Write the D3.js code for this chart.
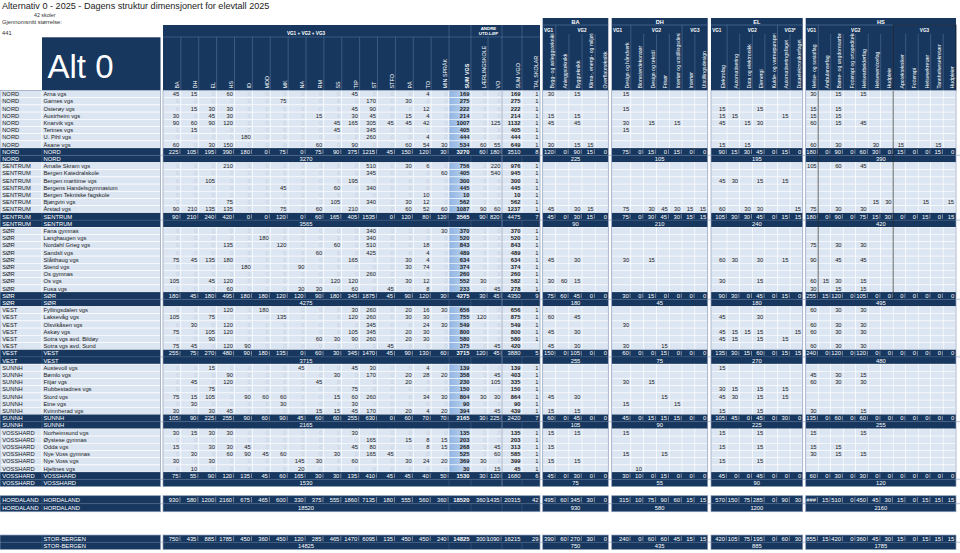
<!DOCTYPE html>
<html><head><meta charset="utf-8">
<script src="https://cdn.jsdelivr.net/npm/d3@7"></script>
<style>body{margin:0;background:#fff;}svg{display:block;}</style>
</head><body>
<script>
// ================= DATA =================
const regions = ["NORD","SENTRUM","SØR","VEST","SUNNH","VOSSHARD"];
const storBergenRegions = ["NORD","SENTRUM","SØR","VEST"];
const schoolNames = [
 "Arna vgs","Garnes vgs","Osterøy vgs","Austrheim vgs","Knarvik vgs","Tertnes vgs","U. Pihl vgs","Åsane vgs",
 "Amalie Skram vgs","Bergen Katedralskole","Bergen maritime vgs","Bergens Handelsgymnasium","Bergen Tekniske fagskole","Bjørgvin vgs","Årstad vgs",
 "Fana gymnas","Langhaugen vgs","Nordahl Grieg vgs","Sandsli vgs","Slåtthaug vgs","Stend vgs","Os gymnas","Os vgs","Fusa vgs",
 "Fyllingsdalen vgs","Laksevåg vgs","Olsvikåsen vgs","Askøy vgs","Sotra vgs avd. Bildøy","Sotra vgs avd. Sund",
 "Austevoll vgs","Bømlo vgs","Fitjar vgs","Rubbestadnes vgs","Stord vgs","Etne vgs","Kvinnherad vgs",
 "Norheimsund vgs","Øystese gymnas","Odda vgs","Nye Voss gymnas","Nye Voss vgs","Hjeltnes vgs"];
const schoolRegion = [
 "NORD","NORD","NORD","NORD","NORD","NORD","NORD","NORD",
 "SENTRUM","SENTRUM","SENTRUM","SENTRUM","SENTRUM","SENTRUM","SENTRUM",
 "SØR","SØR","SØR","SØR","SØR","SØR","SØR","SØR","SØR",
 "VEST","VEST","VEST","VEST","VEST","VEST",
 "SUNNH","SUNNH","SUNNH","SUNNH","SUNNH","SUNNH","SUNNH",
 "VOSSHARD","VOSSHARD","VOSSHARD","VOSSHARD","VOSSHARD","VOSSHARD"];
const mainPrograms = ["BA","DH","EL","HS","ID","MDD","MK","NA","RM","SS","TIP","ST","STFO","PÅ","TO","MIN SPRÅK"];
const extraKeys = ["SUM VGS","LÆRLINGSKOLE","VO","SUM VGO","TAL SKOLAR"];
// BA DH EL HS ID MDD MK NA RM SS TIP ST STFO PÅ TO MIN | LÆRLINGSKOLE VO
const mainRows = [
 [45,15,0,60, 0,0,0,0, 0,0,45,0, 0,0,4,0, 0,0],
 [0,0,0,0, 0,0,75,0, 0,0,0,170, 0,30,0,0, 0,0],
 [0,15,30,30, 0,0,0,0, 0,0,45,90, 0,0,12,0, 0,0],
 [30,0,45,30, 0,0,0,0, 15,0,30,45, 0,15,4,0, 0,0],
 [90,60,90,120, 0,0,0,0, 0,45,165,305, 45,45,42,0, 0,125],
 [0,15,0,0, 0,0,0,0, 0,45,0,345, 0,0,0,0, 0,0],
 [0,0,0,0, 180,0,0,0, 0,0,0,260, 0,0,4,0, 0,0],
 [60,0,30,150, 0,0,0,0, 60,0,90,0, 0,60,54,30, 60,55],
 [0,0,0,210, 0,0,0,0, 0,0,0,510, 0,30,6,0, 0,220],
 [0,0,0,0, 0,0,0,0, 0,0,0,345, 0,0,0,60, 0,540],
 [0,0,105,0, 0,0,0,0, 0,0,195,0, 0,0,0,0, 0,0],
 [0,0,0,0, 0,0,45,0, 0,60,0,340, 0,0,0,0, 0,0],
 [0,0,0,0, 0,0,0,0, 0,0,0,0, 0,0,10,0, 0,0],
 [0,0,0,75, 0,0,0,0, 0,105,0,340, 0,30,12,0, 0,0],
 [90,210,135,135, 0,0,75,0, 60,0,210,0, 0,60,52,60, 90,60],
 [0,0,0,0, 0,0,0,0, 0,0,0,340, 0,0,0,30, 0,0],
 [0,0,0,0, 0,180,0,0, 0,0,0,340, 0,0,0,0, 0,0],
 [0,0,0,135, 0,0,120,0, 0,60,0,510, 0,0,18,0, 0,0],
 [0,0,0,0, 0,0,0,0, 60,0,0,425, 0,0,4,0, 0,0],
 [75,45,135,180, 0,0,0,0, 0,0,165,0, 0,30,4,0, 0,0],
 [0,0,0,0, 180,0,0,90, 0,0,0,0, 0,30,74,0, 0,0],
 [0,0,0,0, 0,0,0,0, 0,0,0,260, 0,0,0,0, 0,0],
 [105,0,45,120, 0,0,0,0, 0,120,120,0, 0,30,12,0, 30,0],
 [0,0,0,60, 0,0,0,30, 30,0,60,0, 45,0,8,0, 0,45],
 [0,0,0,120, 0,180,0,0, 0,0,30,260, 0,20,16,30, 0,0],
 [105,0,75,0, 0,0,135,0, 0,0,120,260, 0,30,30,0, 120,0],
 [0,30,0,120, 0,0,0,0, 0,0,0,345, 0,0,24,30, 0,0],
 [75,0,105,120, 0,0,0,0, 0,0,105,345, 0,20,30,0, 0,0],
 [0,0,90,0, 0,0,0,0, 60,30,90,260, 0,20,30,0, 0,0],
 [75,45,0,120, 90,0,0,0, 0,0,0,0, 45,0,0,0, 0,45],
 [0,0,15,0, 0,0,0,45, 0,0,45,30, 0,0,4,0, 0,0],
 [0,0,0,90, 0,0,0,0, 0,30,0,170, 0,20,28,20, 0,45],
 [0,45,0,120, 0,0,0,0, 45,0,0,0, 0,20,0,0, 0,105],
 [0,0,75,0, 0,0,0,0, 0,0,75,0, 0,0,0,0, 0,0],
 [75,15,105,0, 90,60,60,0, 0,15,60,260, 0,0,34,30, 30,30],
 [0,30,0,0, 0,0,30,0, 0,0,30,0, 0,0,0,0, 0,0],
 [30,0,30,45, 0,0,0,0, 15,15,45,170, 0,20,4,20, 0,45],
 [30,15,30,30, 0,0,0,0, 0,0,30,0, 0,0,0,0, 0,0],
 [0,0,0,0, 0,0,0,0, 0,0,0,165, 0,15,8,15, 0,0],
 [15,0,30,30, 45,0,0,0, 0,0,45,80, 0,0,8,15, 0,45],
 [0,30,0,60, 90,45,60,0, 0,30,0,165, 45,0,0,0, 0,60],
 [30,0,30,0, 0,0,0,145, 30,0,60,0, 0,30,24,20, 30,0],
 [0,10,0,0, 0,0,0,20, 0,0,0,0, 0,0,0,0, 0,15]];
const talSkolar = [1,1,1,1,1,1,1,1, 1,1,1,1,1,1,1, 1,1,1,1,1,1,1,1,1, 1,1,1,1,1,null, 1,1,1,1,1,1,1, 1,1,1,1,1,1];

const baCols = ["Bygg- og anleggsteknikk","Anleggsteknikk","Byggteknikk","Klima-, energi- og miljøteknikk","Overflateteknikk"];
const baRows = [
 [30,0,15,0,0],[0,0,0,0,0],[0,0,0,0,0],[15,0,15,0,0],[45,0,45,0,0],[0,0,0,0,0],[0,0,0,0,0],[30,0,15,15,0],
 [0,0,0,0,0],[0,0,0,0,0],[0,0,0,0,0],[0,0,0,0,0],[0,0,0,0,0],[0,0,0,0,0],[45,0,30,15,0],
 [0,0,0,0,0],[0,0,0,0,0],[0,0,0,0,0],[0,0,0,0,0],[45,0,30,0,0],[0,0,0,0,0],[0,0,0,0,0],[30,60,15,0,0],[0,0,0,0,0],
 [0,0,0,0,0],[60,0,45,0,0],[0,0,0,0,0],[45,0,30,0,0],[0,0,0,0,0],[45,0,30,0,0],
 [0,0,0,0,0],[0,0,0,0,0],[0,0,0,0,0],[0,0,0,0,0],[45,0,30,0,0],[0,0,0,0,0],[15,0,15,0,0],
 [15,0,15,0,0],[0,0,0,0,0],[15,0,0,0,0],[0,0,0,0,0],[15,0,15,0,0],[0,0,0,0,0]];
const dhCols = ["Design og håndverk","Blomsterdekoratør","Design og tekstil","Frisør","Interiør og utstillingsdesign","Interiør","Utstillingsdesign"];
const dhRows = [
 [15,0,0,0,0,0,0],[0,0,0,0,0,0,0],[15,0,0,0,0,0,0],[0,0,0,0,0,0,0],[30,0,15,0,15,0,0],[15,0,0,0,0,0,0],[0,0,0,0,0,0,0],[0,0,0,0,0,0,0],
 [0,0,0,0,0,0,0],[0,0,0,0,0,0,0],[0,0,0,0,0,0,0],[0,0,0,0,0,0,0],[0,0,0,0,0,0,0],[0,0,0,0,0,0,0],[75,0,30,45,30,15,15],
 [0,0,0,0,0,0,0],[0,0,0,0,0,0,0],[0,0,0,0,0,0,0],[0,0,0,0,0,0,0],[30,0,15,0,0,0,0],[0,0,0,0,0,0,0],[0,0,0,0,0,0,0],[0,0,0,0,0,0,0],[0,0,0,0,0,0,0],
 [0,0,0,0,0,0,0],[0,0,0,0,0,0,0],[30,0,0,0,0,0,0],[0,0,0,0,0,0,0],[0,0,0,0,0,0,0],[30,0,0,15,0,0,0],
 [0,0,0,0,0,0,0],[0,0,0,0,0,0,0],[30,0,15,0,0,0,0],[0,0,0,0,0,0,0],[0,0,0,15,0,0,0],[15,0,0,0,15,0,0],[0,0,0,0,0,0,0],
 [15,0,0,0,0,0,0],[0,0,0,0,0,0,0],[0,0,0,0,0,0,0],[15,0,0,15,0,0,0],[0,0,0,0,0,0,0],[0,10,0,0,0,0,0]];
const elCols = ["Elektrofag","Automatisering","Data og elektronikk","Elenergi","Kulde- og varmepumpeteknikk","Automatiseringsfaget","Dataelektronikerfaget"];
const elRows = [
 [0,0,0,0,0,0,0],[0,0,0,0,0,0,0],[15,0,0,15,0,0,0],[15,15,0,0,0,15,0],[45,0,15,30,0,0,0],[0,0,0,0,0,0,0],[0,0,0,0,0,0,0],[15,0,15,0,0,0,0],
 [0,0,0,0,0,0,0],[0,0,0,0,0,0,0],[45,30,0,15,0,15,0],[0,0,0,0,0,0,0],[0,0,0,0,0,0,0],[0,0,0,0,0,0,0],[60,0,30,30,0,0,15],
 [0,0,0,0,0,0,0],[0,0,0,0,0,0,0],[0,0,0,0,0,0,0],[0,0,0,0,0,0,0],[60,30,0,30,0,15,0],[0,0,0,0,0,0,0],[0,0,0,0,0,0,0],[30,0,0,15,0,0,0],[0,0,0,0,0,0,0],
 [0,0,0,0,0,0,0],[45,0,0,30,0,0,0],[0,0,0,0,0,0,0],[45,15,15,15,0,0,15],[45,15,0,15,0,15,0],[0,0,0,0,0,0,0],
 [15,0,0,0,0,0,0],[0,0,0,0,0,0,0],[0,0,0,0,0,0,0],[30,15,0,15,0,15,0],[45,30,0,15,0,15,0],[0,0,0,0,0,0,0],[15,0,0,15,0,0,0],
 [15,0,0,15,0,0,0],[0,0,0,0,0,0,0],[15,0,0,15,0,0,0],[0,0,0,0,0,0,0],[15,0,0,15,0,0,0],[0,0,0,0,0,0,0]];
const hsCols = ["Helse- og sosialfag","Ambulansefag","Barne- og ungdomsarbeiderfag","Fotterapi og ortopediteknikk","Helsearbeiderfag","Helseservicefag","Hudpleie","Apotektekniker","Fotterapi","Helsesekretær","Tannhelsesekretær","Hudpleier"];
const hsRows = [
 [30,0,15,0,15,0,0,0,0,0,0,0],[0,0,0,0,0,0,0,0,0,0,0,0],[15,0,15,0,0,0,0,0,0,0,0,0],[15,0,15,0,0,0,0,0,0,0,0,0],
 [60,0,15,0,45,0,0,0,0,0,0,0],[0,0,0,0,0,0,0,0,0,0,0,0],[0,0,0,0,0,0,0,0,0,0,0,0],[60,0,30,0,0,30,0,15,0,0,15,0],
 [105,0,60,0,45,0,0,0,0,0,0,0],[0,0,0,0,0,0,0,0,0,0,0,0],[0,0,0,0,0,0,0,0,0,0,0,0],[0,0,0,0,0,0,0,0,0,0,0,0],
 [0,0,0,0,0,0,0,0,0,0,0,0],[0,0,0,0,0,15,30,0,0,15,0,15],[75,0,30,0,30,0,0,0,0,0,0,0],
 [0,0,0,0,0,0,0,0,0,0,0,0],[0,0,0,0,0,0,0,0,0,0,0,0],[75,0,30,0,30,0,0,0,0,0,0,0],[0,0,0,0,0,0,0,0,0,0,0,0],
 [90,0,45,0,45,0,0,0,0,0,0,0],[0,0,0,0,0,0,0,0,0,0,0,0],[0,0,0,0,0,0,0,0,0,0,0,0],[60,15,30,0,15,0,0,0,0,0,0,0],
 [30,0,15,0,15,0,0,0,0,0,0,0],
 [60,0,30,0,30,0,0,0,0,0,0,0],[0,0,0,0,0,0,0,0,0,0,0,0],[60,0,30,0,30,0,0,0,0,0,0,0],[60,0,30,0,30,0,0,0,0,0,0,0],
 [0,0,0,0,0,0,0,0,0,0,0,0],[60,0,30,0,30,0,0,0,0,0,0,0],
 [0,0,0,0,0,0,0,0,0,0,0,0],[45,0,30,0,15,0,0,0,0,0,0,0],[60,0,30,0,30,0,0,0,0,0,0,0],[0,0,0,0,0,0,0,0,0,0,0,0],
 [0,0,0,0,0,0,0,0,0,0,0,0],[0,0,0,0,0,0,0,0,0,0,0,0],[30,0,0,0,15,0,0,0,0,0,0,0],
 [15,0,0,0,15,0,0,0,0,0,0,0],[0,0,0,0,0,0,0,0,0,0,0,0],[15,0,15,0,0,0,0,0,0,0,0,0],[30,0,15,0,15,0,0,0,0,0,0,0],
 [0,0,0,0,0,0,0,0,0,0,0,0],[0,0,0,0,0,0,0,0,0,0,0,0]];

const titleText = "Alternativ 0 - 2025 - Dagens struktur dimensjonert for elevtall 2025";
const schoolCountText = "42 skoler";
const avgLabel = "Gjennomsnitt størrelse:";
const avgValue = "441";
const altLabel = "Alt 0";

// ================= LAYOUT / STYLE =================
const navy = "#17375e", light = "#dce6f2", border = "#8a9cb8", hdrLine = "#5f7ea6";
const FONT = "'Liberation Sans', Arial, Helvetica, sans-serif";
const svg = d3.select("body").append("svg").attr("width",960).attr("height",553).style("font-family",FONT);
const defs = svg.append("defs");
const g1 = defs.append("linearGradient").attr("id","sumg").attr("x1","0").attr("x2","1");
g1.append("stop").attr("offset","0").attr("stop-color","#8fb4e3");
g1.append("stop").attr("offset","1").attr("stop-color","#c9dbf1");

const rowH = 7.2;
const yRow = d3.scaleLinear().domain([0,1]).range([90.5, 90.5+rowH]);

const layout = [];
let slot = 0;
regions.forEach(r => {
  const members = d3.range(schoolNames.length).filter(i => schoolRegion[i] === r);
  members.forEach(i => layout.push({kind:"school", i, slot:slot++, h:rowH}));
  layout.push({kind:"sum", left:r, name:r, members, slot:slot++, h:rowH});
  layout.push({kind:"total", left:r, name:r, members, slot:slot++, h:rowH});
});
const mainEndSlot = slot;
const allIdx = d3.range(schoolNames.length);
const sbIdx = allIdx.filter(i => storBergenRegions.includes(schoolRegion[i]));
const aggGroups = [
  {left:"HORDALAND", name:"HORDALAND", members:allIdx, slot:56.28, h:8},
  {left:"", name:"STOR-BERGEN", members:sbIdx, slot:61.74, h:7.2}
];
aggGroups.forEach(a => {
  layout.push({kind:"sum", left:a.left, name:a.name, members:a.members, slot:a.slot, h:a.h});
  layout.push({kind:"total", left:a.left, name:a.name, members:a.members, slot:a.slot + a.h/rowH, h:a.h});
});

const xProg = d3.scaleBand().domain(mainPrograms).range([163,449]);
const extraEdges = d3.cumsum([449,22,17,14,20,18]);
const mainCols = mainPrograms.map((k,j)=>({key:k, c:j, x0:xProg(k), x1:xProg(k)+xProg.bandwidth()}))
  .concat(extraKeys.map((k,j)=>({key:k, c:16+j, x0:extraEdges[j], x1:extraEdges[j+1]})));
const MAIN_X0 = 163, MAIN_X1 = 540;

const blocks = [
 {name:"BA", keys:baCols, rows:baRows, x0:542.7, x1:608.3, cs:542.7, ce:608.3, groups:[["VG1",0,0],["VG2",1,4]]},
 {name:"DH", keys:dhCols, rows:dhRows, x0:611.7, x1:707.7, cs:618, ce:707.7, groups:[["VG1",0,0],["VG2",1,4],["VG3",5,6]]},
 {name:"EL", keys:elCols, rows:elRows, x0:711, x1:802.7, cs:714.5, ce:802.7, groups:[["VG1",0,0],["VG2",1,4],["VG3*",5,6]]},
 {name:"HS", keys:hsCols, rows:hsRows, x0:805.7, x1:956, cs:805.7, ce:955.7, groups:[["VG1",0,0],["VG2",1,6],["VG3",7,11]]}
];
blocks.forEach(b => {
  const s = d3.scaleBand().domain(b.keys).range([b.cs, b.ce]);
  b.cols = b.keys.map((k,j)=>({key:k, j, x0: j===0 ? b.x0 : s(k), x1: s(k)+s.bandwidth()}));
});

const mainVal = (m,c) => m.kind==="school" ? mainRows[m.i][c] : d3.sum(m.members, i => mainRows[i][c]);
const sumVGS = i => d3.sum(mainRows[i].slice(0,16));
const rowVGS = m => m.kind==="school" ? sumVGS(m.i) : d3.sum(m.members, sumVGS);
const rowVGO = m => rowVGS(m) + mainVal(m,16) + mainVal(m,17);
const rowTal = m => m.kind==="school" ? talSkolar[m.i] : d3.sum(m.members, i => talSkolar[i] || 0);
const blockVal = (b,m,j) => m.kind==="school" ? b.rows[m.i][j] : d3.sum(m.members, i => b.rows[i][j]);

// ================= HEADER TEXT =================
svg.append("text").attr("x",2).attr("y",9).attr("font-size",9.1).attr("fill","#222").text(titleText);
svg.append("text").attr("x",34).attr("y",16.5).attr("font-size",5.3).attr("fill","#333").text(schoolCountText);
svg.append("text").attr("x",2).attr("y",23.5).attr("font-size",5.8).attr("fill","#333").text(avgLabel);
svg.append("text").attr("x",2).attr("y",35.2).attr("font-size",5.8).attr("fill","#333").text(avgValue);
svg.append("rect").attr("x",42).attr("y",37.3).attr("width",118.5).attr("height",53.2).attr("fill",navy);
svg.append("text").attr("x",47.5).attr("y",77.5).attr("font-size",33).attr("fill","#fff").text(altLabel);

const mh = svg.append("g");
mh.append("rect").attr("x",MAIN_X0).attr("y",25).attr("width",MAIN_X1-MAIN_X0).attr("height",65.5).attr("fill",navy);
mh.append("line").attr("x1",MAIN_X0).attr("x2",MAIN_X1).attr("y1",37).attr("y2",37).attr("stroke",hdrLine).attr("stroke-width",0.5);
mh.append("text").attr("x",(MAIN_X0+449)/2).attr("y",34.5).attr("text-anchor","middle").attr("font-size",4.6).attr("font-weight","bold").attr("fill","#fff").text("VG1 + VG2 + VG3");
const andreX = (extraEdges[1]+extraEdges[3])/2 + 2;
mh.append("text").attr("x",andreX).attr("y",29.8).attr("text-anchor","middle").attr("font-size",4.4).attr("font-weight","bold").attr("fill","#fff").text("ANDRE");
mh.append("text").attr("x",andreX).attr("y",35).attr("text-anchor","middle").attr("font-size",4.4).attr("font-weight","bold").attr("fill","#fff").text("UTD.LØP");
[449, extraEdges[1], extraEdges[3], extraEdges[4]].forEach(x =>
  mh.append("line").attr("x1",x).attr("x2",x).attr("y1",25).attr("y2",37).attr("stroke",hdrLine).attr("stroke-width",0.5));
mainCols.forEach((col,k) => {
  if (k>0) mh.append("line").attr("x1",col.x0).attr("x2",col.x0).attr("y1",37).attr("y2",90.5).attr("stroke",hdrLine).attr("stroke-width",0.5);
  mh.append("text").attr("transform",`translate(${col.x1-1.6},88.5) rotate(-90)`)
    .attr("font-size",5.4).attr("fill","#fff").attr("font-weight", col.key==="SUM VGS" ? "bold" : "normal").text(col.key);
});

blocks.forEach((b,bi) => {
  const g = svg.append("g");
  g.append("rect").attr("x",b.x0).attr("y",18).attr("width",b.x1-b.x0).attr("height",72.5).attr("fill",navy);
  g.append("line").attr("x1",b.x0).attr("x2",b.x1).attr("y1",25).attr("y2",25).attr("stroke",hdrLine).attr("stroke-width",0.6);
  g.append("text").attr("x",(b.x0+b.x1)/2).attr("y",23.7).attr("text-anchor","middle").attr("font-size",5.6).attr("font-weight","bold").attr("fill","#fff").text(b.name);
  b.groups.forEach(([lab,a,z],gi) => {
    const gx0 = b.cols[a].x0, gx1 = b.cols[z].x1;
    if (gi===0) g.append("text").attr("x",gx0+1.2).attr("y",31.5).attr("font-size",4.6).attr("font-weight","bold").attr("fill","#fff").text(lab);
    else g.append("text").attr("x",(gx0+gx1)/2).attr("y",31.5).attr("text-anchor","middle").attr("font-size",4.6).attr("font-weight","bold").attr("fill","#fff").text(lab);
  });
  const cid = "clip"+bi;
  defs.append("clipPath").attr("id",cid).append("rect").attr("x",b.x0).attr("y",33.5).attr("width",b.x1-b.x0).attr("height",57);
  const lg = g.append("g").attr("clip-path",`url(#${cid})`);
  b.cols.forEach((col,j) => {
    if (j>0) g.append("line").attr("x1",col.x0).attr("x2",col.x0).attr("y1",b.groups.some(gr=>gr[1]===j)?25:34).attr("y2",90.5).attr("stroke",hdrLine).attr("stroke-width",0.5);
    lg.append("text").attr("transform",`translate(${col.x1-1.8},88.5) rotate(-90)`).attr("font-size",5.2).attr("fill","#fff").text(col.key);
  });
});
const hs = blocks[3];
svg.append("rect").attr("x",hs.cols[7].x0).attr("y",25).attr("width",hs.x1-hs.cols[7].x0).attr("height",65.5)
  .attr("fill","none").attr("stroke","#0b1626").attr("stroke-width",0.8);

// ================= ROWS =================
const body = svg.append("g");
const numFS = 5.8;
function cellText(g, x, y, h, txt, opts={}) {
  g.append("text").attr("x",x).attr("y",y+h/2+2.05).attr("text-anchor",opts.anchor||"end")
    .attr("font-size",opts.fs||numFS).attr("font-weight",opts.bold?"bold":"normal")
    .attr("fill",opts.fill||"#1a1a1a").text(txt);
}
function sep(g, x, y, h) {
  g.append("line").attr("x1",x).attr("x2",x).attr("y1",y+1.3).attr("y2",y+h-1.3).attr("stroke","#b8c6da").attr("stroke-width",0.6);
}

layout.forEach(m => {
  const y = yRow(m.slot), h = m.h;
  const g = body.append("g");
  if (m.kind === "school") {
    g.append("rect").attr("x",0).attr("y",y).attr("width",42).attr("height",h).attr("fill",light).attr("stroke","#fff").attr("stroke-width",0.6);
    g.append("rect").attr("x",42).attr("y",y).attr("width",118.5).attr("height",h).attr("fill",light).attr("stroke","#fff").attr("stroke-width",0.6);
    cellText(g,2.2,y,h,schoolRegion[m.i],{anchor:"start",fs:5.8});
    cellText(g,43.5,y,h,schoolNames[m.i],{anchor:"start",fs:5.8});
    mainCols.forEach(col => {
      g.append("rect").attr("x",col.x0).attr("y",y).attr("width",col.x1-col.x0).attr("height",h)
        .attr("fill", col.key==="SUM VGS" ? "url(#sumg)" : light).attr("stroke","#fff").attr("stroke-width",0.5);
      let v, opts = {};
      if (col.c < 16) v = mainRows[m.i][col.c];
      else if (col.key==="SUM VGS") { v = rowVGS(m); opts.bold = true; }
      else if (col.key==="LÆRLINGSKOLE") v = mainRows[m.i][16];
      else if (col.key==="VO") v = mainRows[m.i][17];
      else if (col.key==="SUM VGO") { v = rowVGO(m); opts.bold = true; }
      else v = rowTal(m);
      if (v === null || v === undefined) return;
      if (v === 0) opts.fill = "#c3cfdf";
      cellText(g, col.x1-1.6, y, h, String(v), opts);
    });
    blocks.forEach(b => {
      b.cols.forEach(col => {
        g.append("rect").attr("x",col.x0).attr("y",y).attr("width",col.x1-col.x0).attr("height",h)
          .attr("fill",light).attr("stroke","#fff").attr("stroke-width",0.5);
        const v = b.rows[m.i][col.j];
        if (v) cellText(g, col.x1-1.6, y, h, String(v));
      });
    });
  } else {
    g.append("rect").attr("x",0).attr("y",y).attr("width",160.5).attr("height",h).attr("fill",navy);
    g.append("line").attr("x1",42).attr("x2",42).attr("y1",y).attr("y2",y+h).attr("stroke","#4a6690").attr("stroke-width",0.5);
    cellText(g,2.2,y,h,m.left,{anchor:"start",fill:"#fff"});
    cellText(g,43.5,y,h,m.name,{anchor:"start",fill:"#fff"});
    g.append("rect").attr("x",MAIN_X0).attr("y",y).attr("width",MAIN_X1-MAIN_X0).attr("height",h).attr("fill",navy);
    blocks.forEach(b => g.append("rect").attr("x",b.x0).attr("y",y).attr("width",b.x1-b.x0).attr("height",h).attr("fill",navy));
    if (m.kind === "sum") {
      mainCols.forEach(col => {
        let v, opts = {fill:"#fff"};
        if (col.c < 16) v = mainVal(m,col.c);
        else if (col.key==="SUM VGS") { v = rowVGS(m); opts.bold = true; }
        else if (col.key==="LÆRLINGSKOLE") v = mainVal(m,16);
        else if (col.key==="VO") v = mainVal(m,17);
        else if (col.key==="SUM VGO") v = rowVGO(m);
        else v = rowTal(m);
        const bar = col.c < 16 || col.key==="LÆRLINGSKOLE" || col.key==="VO";
        cellText(g, col.x1-(bar?2.4:1.6), y, h, String(v), opts);
        if (bar) sep(g, col.x1-0.9, y, h);
      });
      blocks.forEach(b => {
        b.cols.forEach((col,j) => {
          const v = blockVal(b,m,j);
          const last = j === b.cols.length-1;
          cellText(g, col.x1-(last?1.4:2.2), y, h, v >= 1000 ? "###" : String(v), {fill:"#fff"});
          if (!last) sep(g, col.x1-0.8, y, h);
        });
      });
    } else {
      g.append("line").attr("x1",0).attr("x2",960).attr("y1",y).attr("y2",y).attr("stroke","#4a6690").attr("stroke-width",0.4);
      cellText(g, (MAIN_X0+449)/2, y, h, String(rowVGS(m)), {anchor:"middle", fill:"#fff"});
      [449, extraEdges[1], extraEdges[3], extraEdges[4]].forEach(x =>
        g.append("line").attr("x1",x).attr("x2",x).attr("y1",y).attr("y2",y+h).attr("stroke","#4a6690").attr("stroke-width",0.5));
      blocks.forEach(b => {
        const tot = d3.sum(b.cols, col => blockVal(b,m,col.j));
        cellText(g, (b.x0+b.x1)/2, y, h, String(tot), {anchor:"middle", fill:"#fff"});
      });
    }
  }
});

const lineEnd = yRow(layout.find(m => m.kind==="total" && m.name==="SØR").slot);
[hs.cols[1].x0, hs.cols[7].x0].forEach(x =>
  svg.append("line").attr("x1",x).attr("x2",x).attr("y1",90.5).attr("y2",lineEnd).attr("stroke","#2b2b2b").attr("stroke-width",0.7));
svg.append("line").attr("x1",extraEdges[3]).attr("x2",extraEdges[3]).attr("y1",90.5).attr("y2",yRow(mainEndSlot)).attr("stroke","#7b8ca6").attr("stroke-width",0.6);

const panels = [[0,160.5],[MAIN_X0,MAIN_X1]].concat(blocks.map(b=>[b.x0,b.x1]));
const spans = [[yRow(0), yRow(mainEndSlot)]].concat(aggGroups.map(a => [yRow(a.slot), yRow(a.slot)+2*a.h]));
panels.forEach(([x0,x1]) => spans.forEach(([y0,y1]) =>
  svg.append("rect").attr("x",x0).attr("y",y0).attr("width",x1-x0).attr("height",y1-y0)
    .attr("fill","none").attr("stroke",border).attr("stroke-width",0.7)));
</script>
</body></html>
